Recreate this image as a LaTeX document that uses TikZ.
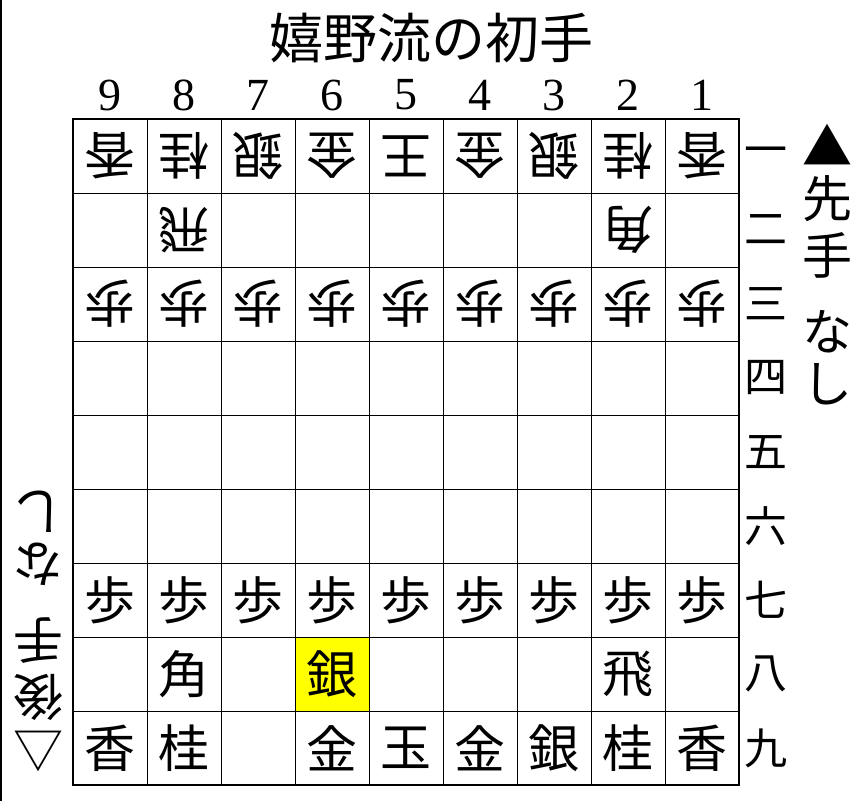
\documentclass[tikz,border=0pt]{standalone}
\usepackage{fontspec}
\usepackage{xcolor}
\usepackage{tikz}
\newfontfamily\jpfont{Noto Sans CJK JP}
\newfontfamily\numfont{Liberation Serif}
\definecolor{hilite}{HTML}{FFFF00}

\begin{document}
\begin{tikzpicture}[x=1pt, y=-1pt,
  koma/.style={font=\jpfont\fontsize{51pt}{51pt}\selectfont, inner sep=0pt},
  gote/.style={koma, rotate=180},
  lab/.style={font=\jpfont\fontsize{43pt}{43pt}\selectfont, inner sep=0pt},
  num/.style={font=\numfont\fontsize{46pt}{46pt}\selectfont, inner sep=0pt},
  side/.style={font=\jpfont\fontsize{50pt}{50pt}\selectfont, inner sep=0pt}]
  \useasboundingbox (0,0) rectangle (855,801);
  \draw[line width=2pt] (1,0) -- (1,801);
  % title and labels
  \node[font=\jpfont\fontsize{54pt}{54pt}\selectfont, inner sep=0pt] (title) at (431,38) {嬉野流の初手};
  \foreach \c in {1,...,9}
    \node[num] (col\c) at ({110+(9-\c)*74},95) {\c};
  \foreach \k [count=\r] in {一,二,三,四,五,六,七,八,九}
    \node[lab] (row\r) at (766,{156+(\r-1)*74}) {\k};
  % highlighted square
  \fill[hilite] (295,637) rectangle (369,711);
  % board
  \foreach \i in {1,...,8} {
    \draw[line width=0.9pt] ({73+\i*74},119) -- ({73+\i*74},785);
    \draw[line width=0.9pt] (73,{119+\i*74}) -- (739,{119+\i*74});
  }
  \draw[line width=2.2pt] (73,119) rectangle (739,785);
  % gote pieces
  \foreach \c/\r/\k in {9/1/香,8/1/桂,7/1/銀,6/1/金,5/1/王,4/1/金,3/1/銀,2/1/桂,1/1/香,
                        8/2/飛,2/2/角,
                        9/3/歩,8/3/歩,7/3/歩,6/3/歩,5/3/歩,4/3/歩,3/3/歩,2/3/歩,1/3/歩}
    \node[gote] (p\c\r) at ({110+(9-\c)*74},{156+(\r-1)*74}) {\k};
  % sente pieces
  \foreach \c/\r/\k in {9/7/歩,8/7/歩,7/7/歩,6/7/歩,5/7/歩,4/7/歩,3/7/歩,2/7/歩,1/7/歩,
                        8/8/角,6/8/銀,2/8/飛,
                        9/9/香,8/9/桂,6/9/金,5/9/玉,4/9/金,3/9/銀,2/9/桂,1/9/香}
    \node[koma] (p\c\r) at ({110+(9-\c)*74},{156+(\r-1)*74}) {\k};
  % hands
  \foreach \t/\y [count=\i] in {▲/145,先/199,手/255,な/332,し/384}
    \node[side] (sen\i) at (827,\y) {\t};
  \foreach \t/\y [count=\i] in {△/751,後/697,手/641,な/564,し/512}
    \node[side, rotate=180] (go\i) at (38,\y) {\t};
\end{tikzpicture}
\end{document}
